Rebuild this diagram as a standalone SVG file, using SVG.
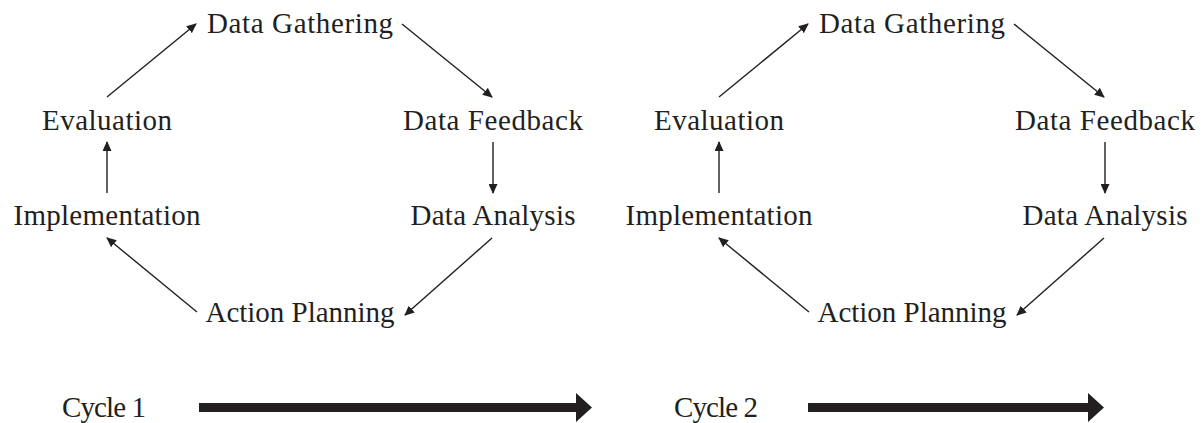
<svg xmlns="http://www.w3.org/2000/svg" width="1203" height="423" viewBox="0 0 1203 423">
<style>
text{font-family:"Liberation Serif","Times New Roman",serif;font-size:29px;fill:#231f20;text-anchor:middle}
.c{stroke:#231f20;stroke-width:1.4;fill:none;marker-end:url(#ah)}
.big{fill:#231f20}
</style>
<defs>
<marker id="ah" viewBox="0 0 10 10" refX="9" refY="5" markerWidth="10" markerHeight="9" markerUnits="userSpaceOnUse" orient="auto" preserveAspectRatio="none">
<path d="M0,0 L10,5 L0,10 Z" fill="#231f20"/>
</marker>
</defs>
<rect width="1203" height="423" fill="#fff"/>
<g id="cycle1">
<g id="c1-gathering"><text x="300" y="33" textLength="186" lengthAdjust="spacing">Data Gathering</text></g>
<g id="c1-evaluation"><text x="107" y="130" textLength="130" lengthAdjust="spacing">Evaluation</text></g>
<g id="c1-feedback"><text x="493" y="130" textLength="180" lengthAdjust="spacing">Data Feedback</text></g>
<g id="c1-implementation"><text x="107" y="225" textLength="187" lengthAdjust="spacing">Implementation</text></g>
<g id="c1-analysis"><text x="493" y="225" textLength="165" lengthAdjust="spacing">Data Analysis</text></g>
<g id="c1-planning"><text x="300" y="322" textLength="189" lengthAdjust="spacing">Action Planning</text></g>
<g id="c1-label"><text x="104" y="417" textLength="84" lengthAdjust="spacing">Cycle 1</text></g>
</g>
<g id="cycle2">
<g id="c2-gathering"><text x="912" y="33" textLength="186" lengthAdjust="spacing">Data Gathering</text></g>
<g id="c2-evaluation"><text x="719" y="130" textLength="130" lengthAdjust="spacing">Evaluation</text></g>
<g id="c2-feedback"><text x="1105" y="130" textLength="180" lengthAdjust="spacing">Data Feedback</text></g>
<g id="c2-implementation"><text x="719" y="225" textLength="187" lengthAdjust="spacing">Implementation</text></g>
<g id="c2-analysis"><text x="1105" y="225" textLength="165" lengthAdjust="spacing">Data Analysis</text></g>
<g id="c2-planning"><text x="912" y="322" textLength="189" lengthAdjust="spacing">Action Planning</text></g>
<g id="c2-label"><text x="716" y="417" textLength="84" lengthAdjust="spacing">Cycle 2</text></g>
</g>
<g id="connectors">
<line class="c" x1="107" y1="97" x2="196" y2="24"/>
<line class="c" x1="402" y1="24" x2="492" y2="97"/>
<line class="c" x1="493" y1="142" x2="493" y2="193"/>
<line class="c" x1="492" y1="238" x2="405" y2="315"/>
<line class="c" x1="197" y1="312" x2="107" y2="238"/>
<line class="c" x1="107" y1="193" x2="107" y2="142"/>
<line class="c" x1="719" y1="97" x2="808" y2="24"/>
<line class="c" x1="1014" y1="24" x2="1104" y2="97"/>
<line class="c" x1="1105" y1="142" x2="1105" y2="193"/>
<line class="c" x1="1104" y1="238" x2="1017" y2="315"/>
<line class="c" x1="809" y1="312" x2="719" y2="238"/>
<line class="c" x1="719" y1="193" x2="719" y2="142"/>
<path class="big" d="M199,403 H576 V393 L592,407.5 L576,422 V412 H199 Z"/>
<path class="big" d="M808,403 H1088 V393 L1104,407.5 L1088,422 V412 H808 Z"/>
</g>
</svg>
